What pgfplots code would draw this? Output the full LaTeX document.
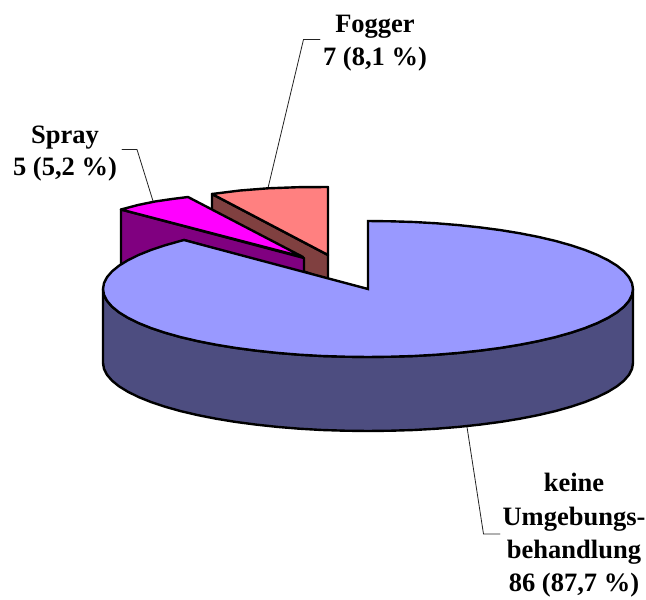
\documentclass[border=0pt]{standalone}
\usepackage{fontspec}
\setmainfont{Liberation Serif}
\usepackage{pgfplots}
\pgfplotsset{compat=1.18}
\definecolor{blueT}{HTML}{9999FF}
\definecolor{blueS}{HTML}{4D4D80}
\definecolor{magT}{HTML}{FF00FF}
\definecolor{magS}{HTML}{800080}
\definecolor{salT}{HTML}{FF8080}
\definecolor{salS}{HTML}{804040}
\definecolor{lead}{HTML}{222222}
\begin{document}
\begin{tikzpicture}
\path[use as bounding box] (0,0) rectangle (646pt,600pt);
\begin{axis}[
  at={(0,0)}, anchor=south west,
  scale only axis, width=646pt, height=600pt,
  xmin=0, xmax=646, ymin=0, ymax=600, y dir=reverse,
  hide axis, clip=false,
  every axis plot/.append style={line join=round, line cap=round},
]
% leaders
\addplot[lead, line width=0.8pt, line join=miter] coordinates {(268,188) (303.5,39.5) (320,39.5)};
\addplot[lead, line width=0.8pt, line join=miter] coordinates {(153,201) (137,149.5) (122,149.5)};
\addplot[lead, line width=0.8pt, line join=miter] coordinates {(467,427) (483.5,534) (500,534)};
% Fogger, 7 (8,1 %)
\addplot[fill=salS, draw=black, line width=2.4pt] coordinates {(212,194) (328,255) (328,280) (300,270) (212,220)} -- cycle;
\addplot[fill=salT, draw=black, line width=2.4pt] coordinates {(212,194) (240,190.5) (268,188.3) (298,187.2) (328,187) (328,255)} -- cycle;
% Spray, 5 (5,2 %)
\addplot[fill=magS, draw=black, line width=2.4pt] coordinates {(121,209.5) (304,258) (304,274) (184,240) (121,270)} -- cycle;
\addplot[fill=magT, draw=black, line width=2.4pt] coordinates {(121,209.5) (138,205) (155,201.5) (172,199) (188,197) (303,257)} -- cycle;
% keine Umgebungsbehandlung, 86 (87,7 %): side wall
\addplot[fill=blueS, draw=black, line width=2.4pt] coordinates {
 (633,289) (632,294.9) (629,300.8) (624,306.6) (617,312.3) (608.2,317.7) (597.5,323) (585.1,328) (571,332.7) (555.4,337.1)
 (538.3,341.1) (520,344.7) (500.5,347.9) (480,350.6) (458.6,352.9) (436.6,354.7) (414,356) (391.1,356.7) (368,357)
 (344.9,356.7) (322,356) (299.4,354.7) (277.4,352.9) (256,350.6) (235.5,347.9) (216,344.7) (197.7,341.1) (180.6,337.1)
 (165,332.7) (150.9,328) (138.5,323) (127.8,317.7) (119,312.3) (112,306.6) (107,300.8) (104,294.9) (103,289)
 (103,363) (104,368.9) (107,374.8) (112,380.6) (119,386.3) (127.8,391.7) (138.5,397) (150.9,402) (165,406.7) (180.6,411.1)
 (197.7,415.1) (216,418.7) (235.5,421.9) (256,424.6) (277.4,426.9) (299.4,428.7) (322,430) (344.9,430.7) (368,431)
 (391.1,430.7) (414,430) (436.6,428.7) (458.6,426.9) (480,424.6) (500.5,421.9) (520,418.7) (538.3,415.1) (555.4,411.1)
 (571,406.7) (585.1,402) (597.5,397) (608.2,391.7) (617,386.3) (624,380.6) (629,374.8) (632,368.9) (633,363)
} -- cycle;
% top face
\addplot[fill=blueT, draw=black, line width=2.4pt, line join=miter] coordinates {
 (368,289) (368,221) (391.1,221.3) (414,222) (436.6,223.3) (458.6,225.1) (480,227.4) (500.5,230.1) (520,233.3) (538.3,236.9)
 (555.4,240.9) (571,245.3) (585.1,250) (597.5,255) (608.2,260.3) (617,265.7) (624,271.4) (629,277.2) (632,283.1) (633,289)
 (632,294.9) (629,300.8) (624,306.6) (617,312.3) (608.2,317.7) (597.5,323) (585.1,328) (571,332.7) (555.4,337.1)
 (538.3,341.1) (520,344.7) (500.5,347.9) (480,350.6) (458.6,352.9) (436.6,354.7) (414,356) (391.1,356.7) (368,357)
 (344.9,356.7) (322,356) (299.4,354.7) (277.4,352.9) (256,350.6) (235.5,347.9) (216,344.7) (197.7,341.1) (180.6,337.1)
 (165,332.7) (150.9,328) (138.5,323) (127.8,317.7) (119,312.3) (112,306.6) (107,300.8) (104,294.9) (103,289)
 (104,283.1) (107,277.2) (112,271.4) (119,265.7) (127.8,260.3) (138.5,255) (150.9,250) (165,245.3) (180.6,240.9) (184,240)
} -- cycle;
% labels
\tikzset{lab/.style={anchor=base, inner sep=0pt, font=\bfseries\fontsize{26.5}{26.5}\selectfont}}
\node[lab] at (axis cs:375,32) {Fogger};
\node[lab] at (axis cs:375,65) {7 (8,1 \%)};
\node[lab] at (axis cs:65,143) {Spray};
\node[lab] at (axis cs:65,175) {5 (5,2 \%)};
\node[lab] at (axis cs:574,491) {keine};
\node[lab] at (axis cs:574,525) {Umgebungs-};
\node[lab] at (axis cs:574,558) {behandlung};
\node[lab] at (axis cs:574,591) {86 (87,7 \%)};
\end{axis}
\end{tikzpicture}
\end{document}
